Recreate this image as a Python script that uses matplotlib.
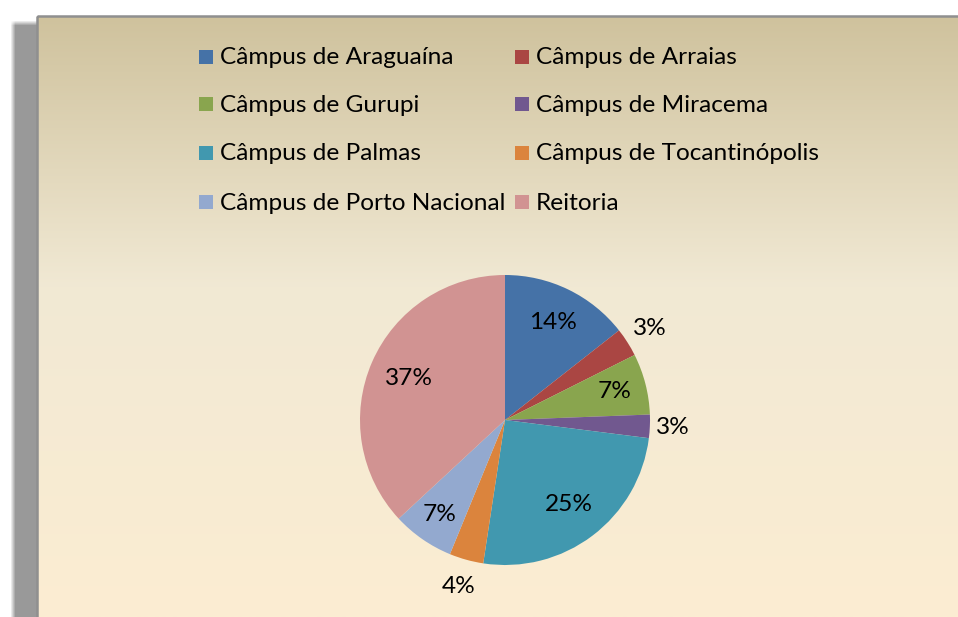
import numpy as np
import matplotlib
matplotlib.use("Agg")
import matplotlib.pyplot as plt
from matplotlib.patches import Rectangle

# ── Data ───────────────────────────────────────────────────────────────────
campus = [
    "Câmpus de Araguaína", "Câmpus de Arraias", "Câmpus de Gurupi",
    "Câmpus de Miracema", "Câmpus de Palmas", "Câmpus de Tocantinópolis",
    "Câmpus de Porto Nacional", "Reitoria",
]
share = [14.4, 3.2, 6.8, 2.6, 25.4, 3.8, 6.9, 36.9]
colors = ["#4572A7", "#AA4643", "#89A54E", "#71588F",
          "#4198AF", "#DB843D", "#93A9CF", "#D19392"]
# radial position of each percent label (fraction of radius)
label_r = [0.75, 1.18, 0.78, 1.16, 0.73, 1.19, 0.79, 0.72]

W, H = 958, 617
plt.rcParams["font.family"] = ["Lato", "DejaVu Sans"]

fig = plt.figure(figsize=(W / 100, H / 100), dpi=100)
fig.patch.set_facecolor("white")

# ── Background panel (pixel coordinates) ───────────────────────────────────
bg = fig.add_axes([0, 0, 1, 1])
bg.set_xlim(0, W)
bg.set_ylim(H, 0)
bg.axis("off")

# soft shadow on the left
yy, xx = np.mgrid[0:H, 0:W]
def soft(v, a, b, s):
    return np.clip((v - a) / s, 0, 1) * np.clip((b - v) / s, 0, 1)
alpha = soft(xx, 10, 60, 5.0) * soft(yy, 20, H + 40, 5.0)
shadow = np.zeros((H, W, 4))
shadow[..., :3] = 0.6
shadow[..., 3] = alpha
bg.imshow(shadow, extent=[0, W, H, 0], zorder=1, interpolation="bilinear")

# parchment gradient
top = np.array([207, 194, 157]) / 255
mid = np.array([241, 233, 212]) / 255
bot = np.array([252, 237, 210]) / 255
t = np.linspace(0, 1, 300)[:, None]
grad = np.where(t < 0.45, top + (mid - top) * (t / 0.45),
                mid + (bot - mid) * ((t - 0.45) / 0.55))
bg.imshow(grad[:, None, :], extent=[37, W + 2, H, 16], aspect="auto",
          zorder=2, interpolation="bilinear")
bg.add_patch(Rectangle((37, 16), W, H, fill=False, ec="#8f8f8f", lw=1.8, zorder=3))

# ── Legend (two columns, row-wise) ─────────────────────────────────────────
col_x = [199, 515]
row_y = [57, 104, 153, 202]
for i, (name, c) in enumerate(zip(campus, colors)):
    x0 = col_x[i % 2]
    y0 = row_y[i // 2]
    bg.add_patch(Rectangle((x0, y0 - 7), 14, 14, fc=c, ec="none", zorder=4))
    bg.text(x0 + 21, y0 + 1, name, fontsize=17.6, va="center", ha="left",
            color="black", zorder=4)

# ── Pie ────────────────────────────────────────────────────────────────────
cx, cy, r = 505, 420, 145
ax = fig.add_axes([(cx - r) / W, (H - cy - r) / H, 2 * r / W, 2 * r / H])
wedges, _ = ax.pie(share, colors=colors, startangle=90, counterclock=False,
                   radius=1, wedgeprops=dict(linewidth=0))
ax.set_xlim(-1, 1)
ax.set_ylim(-1, 1)
ax.set_aspect("equal")
ax.axis("off")

for w, v, fr in zip(wedges, share, label_r):
    ang = np.deg2rad((w.theta1 + w.theta2) / 2)
    ax.text(fr * np.cos(ang), fr * np.sin(ang), f"{v:.0f}%",
            ha="center", va="center", fontsize=17.6, color="black")

fig.savefig("out.png", dpi=100)
